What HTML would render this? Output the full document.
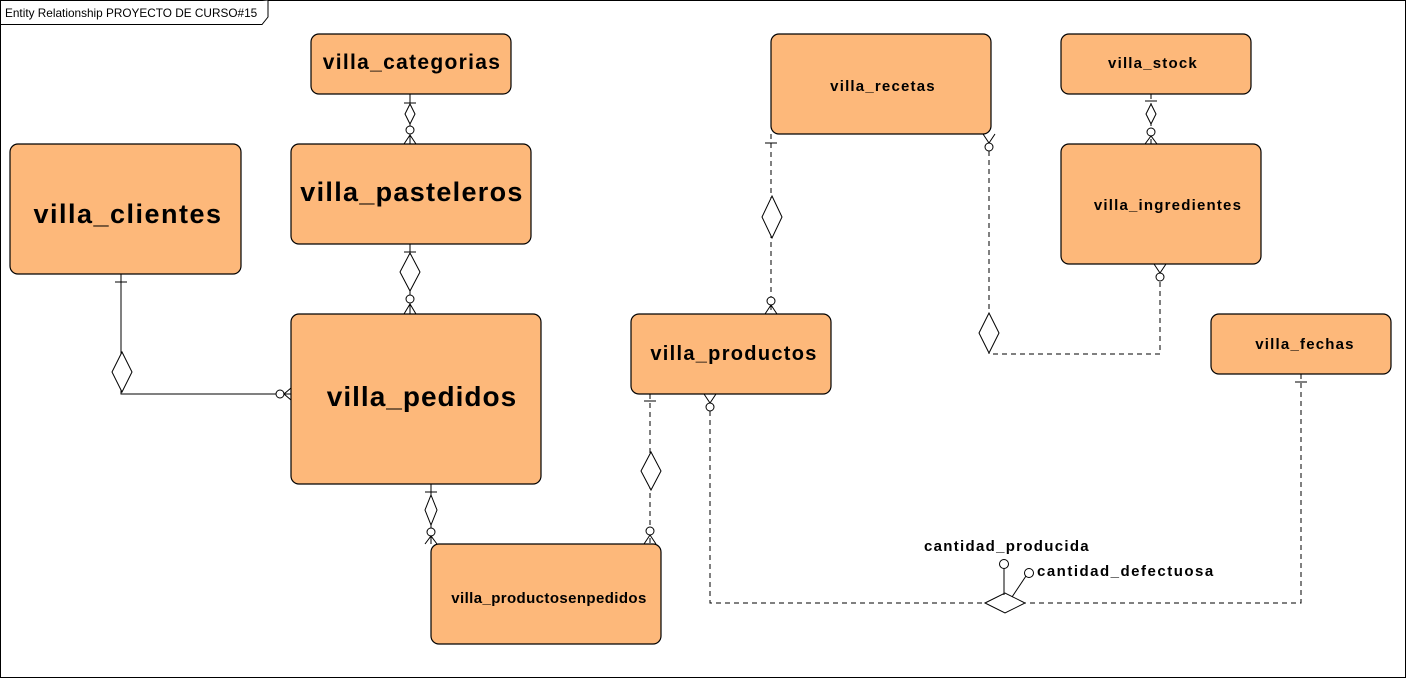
<!DOCTYPE html>
<html><head><meta charset="utf-8"><style>
html,body{margin:0;padding:0;background:#fff;}
svg{display:block;}
text{font-family:"Liberation Sans",sans-serif;font-weight:bold;fill:#000;}
.b{fill:#fdb87a;stroke:#000;stroke-width:1.2;}
.l{stroke:#000;stroke-width:1;fill:none;}
.d{stroke:#000;stroke-width:1;fill:none;stroke-dasharray:5,4;}
.dm{fill:#fff;stroke:#000;stroke-width:1;}
.c{fill:#fff;stroke:#000;stroke-width:1;}
</style></head><body>
<svg width="1412" height="678" viewBox="0 0 1412 678" xmlns="http://www.w3.org/2000/svg">
<rect x="0.5" y="0.5" width="1405" height="677" fill="#fff" stroke="#000"/>
<path d="M0.5 24.5 H262 L268 17 V0.5" fill="#fff" stroke="#000"/>
<text x="5" y="17" style="font-weight:normal;font-size:11.8px">Entity Relationship PROYECTO DE CURSO#15</text>

<line class="l" x1="410" y1="94" x2="410" y2="144"/>
<line class="l" x1="404" y1="103" x2="416" y2="103"/>
<path class="dm" d="M410 104 L415 114 L410 124 L405 114Z"/>
<circle class="c" cx="410" cy="130" r="4"/>
<path class="l" d="M404 144 L410 135 L416 144"/>
<line class="l" x1="410" y1="244" x2="410" y2="314"/>
<line class="l" x1="404" y1="252" x2="416" y2="252"/>
<path class="dm" d="M410 253 L420 272 L410 291 L400 272Z"/>
<circle class="c" cx="410" cy="299" r="4"/>
<path class="l" d="M404 314 L410 304 L416 314"/>
<path class="l" d="M121 274 V394 H291"/>
<line class="l" x1="115" y1="282" x2="127" y2="282"/>
<path class="dm" d="M122 352 L132 372 L122 392 L112 372Z"/>
<circle class="c" cx="280" cy="394" r="4"/>
<path class="l" d="M291 388 L284 394 L291 400"/>
<line class="l" x1="431" y1="484" x2="431" y2="544"/>
<line class="l" x1="425" y1="492" x2="437" y2="492"/>
<path class="dm" d="M431 495 L437 510 L431 525 L425 510Z"/>
<circle class="c" cx="431" cy="532" r="4"/>
<path class="l" d="M425 544 L431 536 L437 544"/>
<line class="d" x1="650" y1="394" x2="650" y2="544"/>
<line class="l" x1="644" y1="401" x2="656" y2="401"/>
<path class="dm" d="M651 452 L661 471 L651 490 L641 471Z"/>
<circle class="c" cx="650" cy="531" r="4"/>
<path class="l" d="M644 544 L650 535 L656 544"/>
<line class="d" x1="771" y1="134" x2="771" y2="314"/>
<line class="l" x1="765" y1="143" x2="777" y2="143"/>
<path class="dm" d="M772 196 L782 217 L772 238 L762 217Z"/>
<circle class="c" cx="771" cy="301" r="4"/>
<path class="l" d="M765 314 L771 305 L777 314"/>
<path class="d" d="M989 151 V354 H1160 V281"/>
<path class="l" d="M983 134 L989 143 L995 134"/>
<circle class="c" cx="989" cy="147" r="4"/>
<path class="dm" d="M989 313 L999 333 L989 353 L979 333Z"/>
<circle class="c" cx="1160" cy="277" r="4"/>
<path class="l" d="M1154 264 L1160 273 L1166 264"/>
<line class="d" x1="1151" y1="94" x2="1151" y2="144"/>
<line class="l" x1="1145" y1="101" x2="1157" y2="101"/>
<path class="dm" d="M1151 104 L1156 114 L1151 124 L1146 114Z"/>
<circle class="c" cx="1151" cy="132" r="4"/>
<path class="l" d="M1145 144 L1151 136 L1157 144"/>
<path class="d" d="M710 411 V603 H985"/>
<path class="l" d="M704 394 L710 403 L716 394"/>
<circle class="c" cx="710" cy="407" r="4"/>
<path class="d" d="M1301 374 V603 H1025"/>
<line class="l" x1="1295" y1="382" x2="1307" y2="382"/>
<path class="dm" d="M985 603 L1005 593 L1025 603 L1005 613Z"/>
<line class="l" x1="1004" y1="595" x2="1004" y2="568"/>
<circle class="c" cx="1004" cy="564" r="4.5"/>
<line class="l" x1="1012" y1="597" x2="1026" y2="576"/>
<circle class="c" cx="1029" cy="573" r="4.5"/>
<text x="924" y="551" style="font-size:15px;letter-spacing:1.3px">cantidad_producida</text>
<text x="1037" y="576" style="font-size:15px;letter-spacing:1.5px">cantidad_defectuosa</text>

<rect class="b" x="311" y="34" width="200" height="60" rx="8"/>
<text x="412" y="69" text-anchor="middle" style="font-size:21px;letter-spacing:1.3px">villa_categorias</text>
<rect class="b" x="291" y="144" width="240" height="100" rx="8"/>
<text x="412" y="201" text-anchor="middle" style="font-size:27px;letter-spacing:1.3px">villa_pasteleros</text>
<rect class="b" x="10" y="144" width="231" height="130" rx="8"/>
<text x="128" y="223" text-anchor="middle" style="font-size:27px;letter-spacing:1.5px">villa_clientes</text>
<rect class="b" x="291" y="314" width="250" height="170" rx="8"/>
<text x="422" y="406" text-anchor="middle" style="font-size:28px;letter-spacing:1px">villa_pedidos</text>
<rect class="b" x="431" y="544" width="230" height="100" rx="8"/>
<text x="549" y="603" text-anchor="middle" style="font-size:15px;letter-spacing:0.4px">villa_productosenpedidos</text>
<rect class="b" x="631" y="314" width="200" height="80" rx="8"/>
<text x="734" y="360" text-anchor="middle" style="font-size:20px;letter-spacing:1.3px">villa_productos</text>
<rect class="b" x="771" y="34" width="220" height="100" rx="8"/>
<text x="883" y="91" text-anchor="middle" style="font-size:15px;letter-spacing:1.2px">villa_recetas</text>
<rect class="b" x="1061" y="34" width="190" height="60" rx="8"/>
<text x="1153" y="68" text-anchor="middle" style="font-size:15px;letter-spacing:1.2px">villa_stock</text>
<rect class="b" x="1061" y="144" width="200" height="120" rx="8"/>
<text x="1168" y="210" text-anchor="middle" style="font-size:15px;letter-spacing:1.2px">villa_ingredientes</text>
<rect class="b" x="1211" y="314" width="180" height="60" rx="8"/>
<text x="1305" y="349" text-anchor="middle" style="font-size:15px;letter-spacing:1.2px">villa_fechas</text>
</svg>
</body></html>
